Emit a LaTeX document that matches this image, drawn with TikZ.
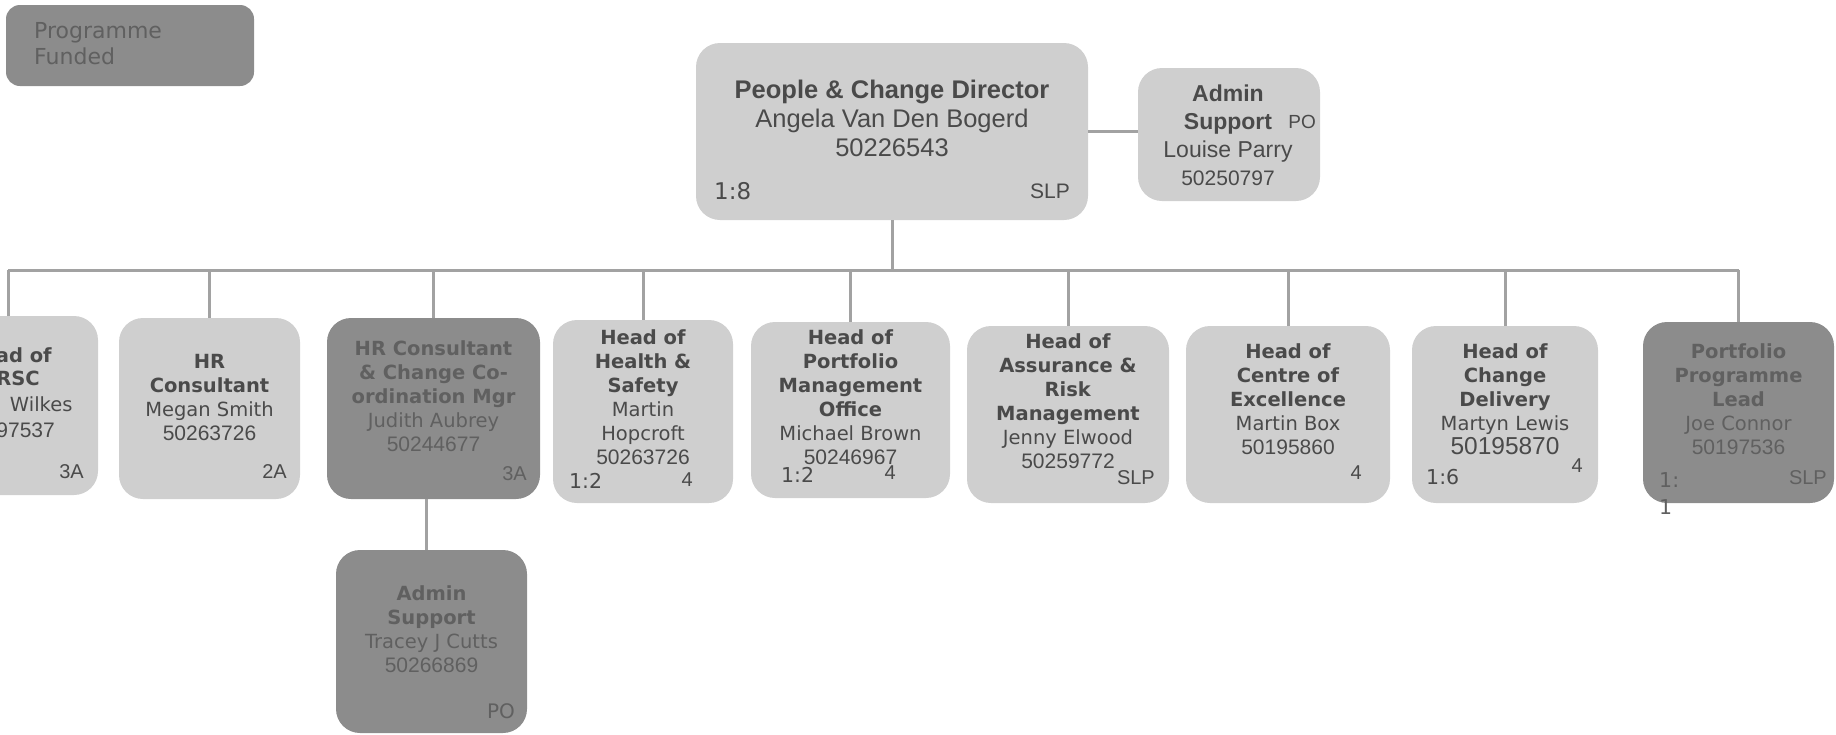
\documentclass[tikz,border=0pt]{standalone}
\usepackage{fontspec}
\setmainfont{DejaVu Sans}
\newfontfamily\arialfont{Liberation Sans}
\usepackage{tikz}
\usetikzlibrary{positioning}
\usetikzlibrary{calc}

\definecolor{boxlight}{HTML}{CFCFCF}
\definecolor{boxdark}{HTML}{8C8C8C}
\definecolor{txtlight}{HTML}{4A4A4A}
\definecolor{txtdark}{HTML}{606060}
\definecolor{linkgray}{HTML}{A2A2A2}

\newcommand{\postno}[1]{{\arialfont\fontsize{21}{24}\selectfont #1}}

\tikzset{
  post/.style={draw=none, fill=boxlight, rounded corners=24, inner sep=0, outer sep=0},
  postdark/.style={post, fill=boxdark},
  role/.style={align=center, inner sep=0, anchor=north, text=txtlight, font=\fontsize{19.5}{24}\selectfont},
  roledark/.style={role, text=txtdark},
  grade/.style={inner sep=0, text=txtlight, font=\arialfont\fontsize{20}{24}\selectfont},
  ratio/.style={inner sep=0, text=txtlight, font=\fontsize{20.5}{27}\selectfont},
  link/.style={draw=linkgray, line width=3},
}

\begin{document}
\begin{tikzpicture}[x=1pt,y=-1pt]
\useasboundingbox (0,0) rectangle (1836,734);

% legend
\node[postdark, rounded corners=14, minimum width=248, minimum height=81] (legend) at (130,45.5) {};
\node[anchor=north west, align=left, inner sep=0, text=txtdark, font=\fontsize{22}{26}\selectfont] (legendtext) at (34,22.5) {Programme\\Funded};

% director and admin
\node[post, minimum width=392, minimum height=177] (dir) at (892,131.5) {};
\node[role, text=txtlight, font=\arialfont\fontsize{25.5}{29}\selectfont] (dirtext) at (892,79.5) {\textbf{People \& Change Director}\\Angela Van Den Bogerd\\50226543};
\node[ratio, anchor=west, font=\fontsize{23}{27}\selectfont] (dirratio) at (714,191) {1:8};
\node[grade, anchor=east, font=\arialfont\fontsize{21}{24}\selectfont] (dirgrade) at (1070,191) {SLP};

\node[post, minimum width=182, minimum height=133] (pa) at (1229,134.5) {};
\node[role, font=\arialfont\fontsize{23}{28}\selectfont] (patext) at (1228,84.5) {\textbf{Admin}\\\textbf{Support}\\Louise Parry\\\postno{50250797}};
\node[grade, anchor=east, font=\arialfont\fontsize{19}{24}\selectfont] (pagrade) at (1316,122) {PO};

% children
\node[post, minimum width=180, minimum height=179] (rsc) at (8,405.5) {};
\node[role, anchor=east] (rsc1) at (52,355) {\textbf{ad of}};
\node[role, anchor=east] (rsc2) at (40,378) {\textbf{RSC}};
\node[role, anchor=east] (rsc3) at (72.6,404) {Wilkes};
\node[role, anchor=east] (rsc4) at (55,430) {\postno{97537}};
\node[grade, anchor=east] (rscgrade) at (84,472) {3A};

\node[post, minimum width=181, minimum height=181] (hrc) at (209.5,408.5) {};
\node[role] (hrctext) at (209.5,354) {\textbf{HR}\\\textbf{Consultant}\\Megan Smith\\\postno{50263726}};
\node[grade, anchor=east] (hrcgrade) at (287,472) {2A};

\node[postdark, minimum width=213, minimum height=181] (hrcc) at (433.5,408.5) {};
\node[roledark] (hrcctext) at (433.5,340) {\textbf{HR Consultant}\\\textbf{\& Change Co-}\\\textbf{ordination Mgr}\\Judith Aubrey\\\postno{50244677}};
\node[grade, anchor=east, text=txtdark] (hrccgrade) at (527,474) {3A};

\node[post, minimum width=180, minimum height=183] (hs) at (643,411.5) {};
\node[role] (hstext) at (643,329) {\textbf{Head of}\\\textbf{Health \&}\\\textbf{Safety}\\Martin\\Hopcroft\\\postno{50263726}};
\node[ratio, anchor=west] (hsratio) at (569,481) {1:2};
\node[grade, anchor=east] (hsgrade) at (693,480) {4};

\node[post, minimum width=199, minimum height=176] (pmo) at (850.5,410) {};
\node[role] (pmotext) at (850.5,329) {\textbf{Head of}\\\textbf{Portfolio}\\\textbf{Management}\\\textbf{Office}\\Michael Brown\\\postno{50246967}};
\node[ratio, anchor=west] (pmoratio) at (781,475) {1:2};
\node[grade, anchor=east] (pmograde) at (896,473) {4};

\node[post, minimum width=202, minimum height=177] (arm) at (1068,414.5) {};
\node[role] (armtext) at (1068,333) {\textbf{Head of}\\\textbf{Assurance \&}\\\textbf{Risk}\\\textbf{Management}\\Jenny Elwood\\\postno{50259772}};
\node[grade, anchor=east] (armgrade) at (1155,478) {SLP};

\node[post, minimum width=204, minimum height=177] (coe) at (1288,414.5) {};
\node[role] (coetext) at (1288,343) {\textbf{Head of}\\\textbf{Centre of}\\\textbf{Excellence}\\Martin Box\\\postno{50195860}};
\node[grade, anchor=east] (coegrade) at (1362,473) {4};

\node[post, minimum width=186, minimum height=177] (cd) at (1505,414.5) {};
\node[role] (cdtext) at (1505,343) {\textbf{Head of}\\\textbf{Change}\\\textbf{Delivery}\\Martyn Lewis\\{\arialfont\fontsize{24.5}{24}\selectfont 50195870}};
\node[ratio, anchor=west] (cdratio) at (1426,477) {1:6};
\node[grade, anchor=east] (cdgrade) at (1583,466) {4};

\node[postdark, minimum width=191, minimum height=181] (ppl) at (1738.5,412.5) {};
\node[roledark] (ppltext) at (1738.5,343) {\textbf{Portfolio}\\\textbf{Programme}\\\textbf{Lead}\\Joe Connor\\\postno{50197536}};
\node[ratio, anchor=north west, align=left, text=txtdark] (pplratio) at (1659,472) {1:\\1};
\node[grade, anchor=east, text=txtdark] (pplgrade) at (1827,478) {SLP};

\node[postdark, minimum width=191, minimum height=183] (adm) at (431.5,641.5) {};
\node[roledark] (admtext) at (431.5,585) {\textbf{Admin}\\\textbf{Support}\\Tracey J Cutts\\\postno{50266869}};
\node[grade, anchor=east, text=txtdark, font=\fontsize{20}{24}\selectfont] (admgrade) at (515,711) {PO};

% links
\coordinate (bus) at (892,270);
\draw[link] (dir.east) -- (dir.east -| pa.west);
\draw[link] (dir.south) -- (bus);
\draw[link] (rsc.north |- bus) -- (ppl.north |- bus);
\foreach \post in {rsc,hrc,hrcc,hs,pmo,arm,coe,cd,ppl}
  \draw[link] (\post.north |- bus) -- (\post.north);
\draw[link] ([xshift=-7pt]hrcc.south) -- ([xshift=-7pt]hrcc.south |- adm.north);

\end{tikzpicture}
\end{document}
